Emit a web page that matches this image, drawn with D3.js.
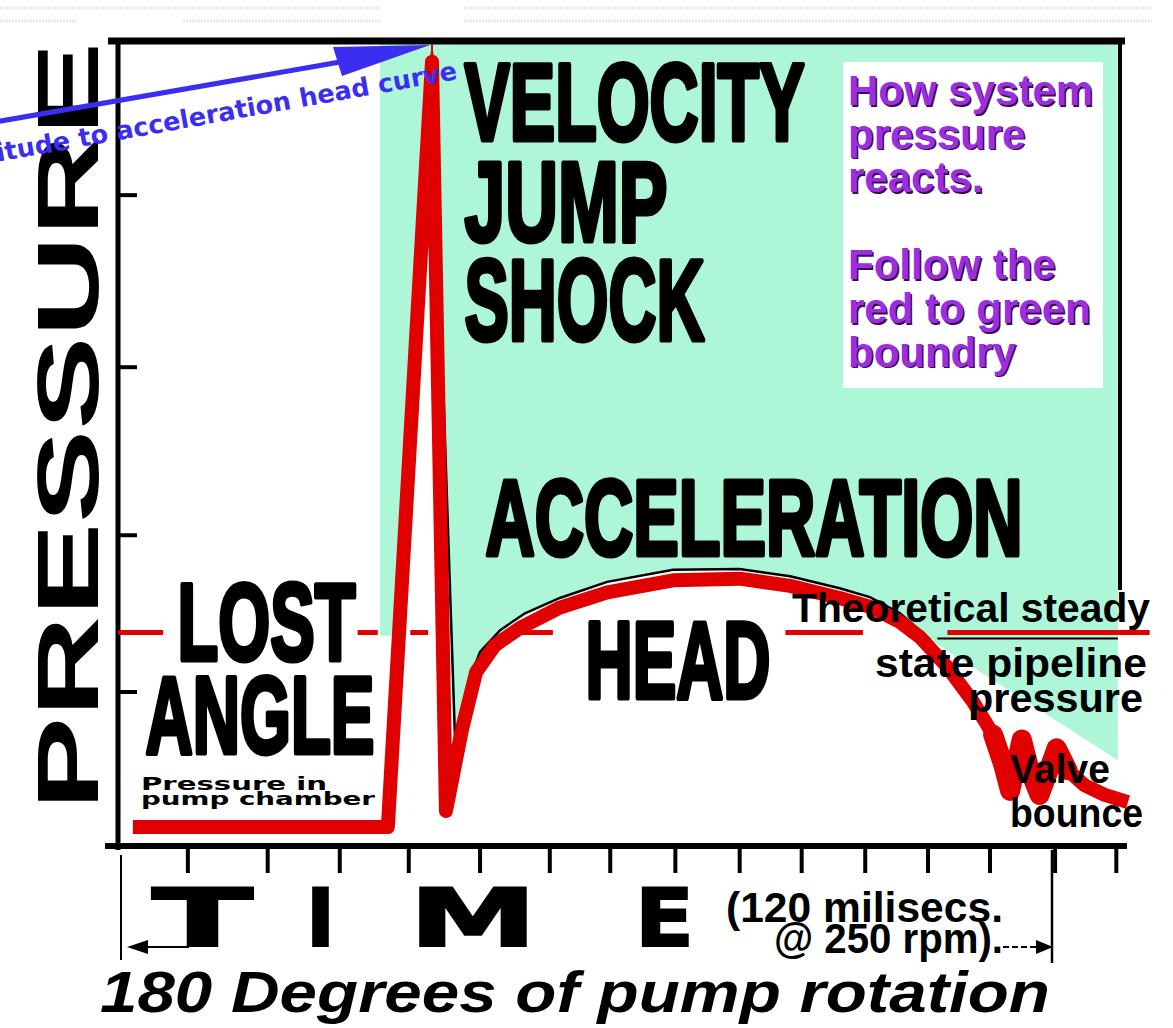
<!DOCTYPE html>
<html>
<head>
<meta charset="utf-8">
<script src="https://cdn.jsdelivr.net/npm/d3@7"></script>
<style>
body{margin:0;background:#fff;}
svg{display:block;}
</style>
</head>
<body>
<div id="chart"></div>
<script>
// time in ms (0-120 ms = 180 deg of pump rotation), pressure in arbitrary units (0-100)
var traceTime     = [1.4, 34.3, 40.0, 41.8, 43.9, 45.7, 48.1, 51.4, 56.5, 62.6, 71.1, 79.7, 86.2, 92.6, 96.5, 100.4, 103.0, 106.5, 109.8, 112.4, 113.7, 114.6, 116.1, 117.1, 118.4, 120.6, 122.0, 124.2, 126.8, 129.8];
var tracePressure = [2.6, 2.6, 97.8, 4.6, 14.9, 21.9, 25.2, 27.4, 29.9, 31.8, 33.3, 33.5, 32.6, 31.1, 30.0, 28.1, 26.2, 22.5, 18.2, 14.1, 10.4, 7.1, 13.5, 9.7, 6.6, 12.4, 9.7, 7.8, 6.6, 5.7];
var bounceStart = 20; // valve bounce part of the trace, drawn heavier

// lower edge of the green "system pressure" area
var boundaryTime     = [33.3, 35.4, 40.0, 43.0, 43.9, 44.9, 46.2, 48.8, 52.0, 56.5, 62.6, 71.1, 79.7, 86.2, 92.6, 96.5, 100.4, 104.3, 128.5];
var boundaryPressure = [26.4, 26.4, 99.0, 12.7, 16.4, 21.1, 24.4, 27.1, 29.2, 31.1, 33.1, 34.6, 34.7, 33.8, 32.3, 31.2, 29.2, 25.9, 10.9];
var boundaryEdgeEnd = 17; // last index where the black edge line is drawn

var steadyPressure = 26.8;
var steadySegments = [[-0.5, 5.3], [30.4, 33.0], [37.2, 39.5], [51.4, 55.6], [85.6, 95.6], [106.5, 132.6]];

var pressureTicks = [19.4, 38.9, 59.8, 81.2];
var timeTicks = [8.5, 18.8, 28.1, 37.0, 46.2, 55.2, 63.0, 71.4, 79.7, 87.7, 95.9, 104.0, 112.0, 120.4, 128.3];

var infoLines = ["How system", "pressure", "reacts.", "", "Follow the", "red to green", "boundry"];

var W = 1173, H = 1028;
var svg = d3.select("#chart").append("svg").attr("width", W).attr("height", H);

var x = d3.scaleLinear().domain([0, 120]).range([122, 1052]);
var y = d3.scaleLinear().domain([0, 100]).range([848, 44]);

var RED = "#e00000", GREEN = "#adf7d8", BLUE = "#3b2ef0", PURPLE = "#9a2ee0";

// faint scan lines at the very top
var scan = [[0, 381, 8], [464, 1152, 8], [0, 78, 21], [183, 381, 21], [464, 1152, 21]];
svg.selectAll(".scan").data(scan).enter().append("line")
	.attr("x1", d => d[0]).attr("x2", d => d[1]).attr("y1", d => d[2]).attr("y2", d => d[2])
	.attr("stroke", "#e8e8e8").attr("stroke-width", 3).attr("stroke-dasharray", "2,1");

// green area
var bpts = boundaryTime.map((t, i) => [t, boundaryPressure[i]]);
var poly = [[boundaryTime[0], 100]].concat(bpts).concat([[boundaryTime[boundaryTime.length - 1], 100]]);
var line = d3.line().x(d => x(d[0])).y(d => y(d[1]));
svg.append("path").attr("d", line(poly) + "Z").attr("fill", GREEN);

// black edge on the boundary
svg.append("path").attr("d", line(bpts.slice(1, boundaryEdgeEnd + 1)))
	.attr("fill", "none").attr("stroke", "#000").attr("stroke-width", 2.5);
svg.append("line")
	.attr("x1", x(105.2)).attr("x2", x(128.5)).attr("y1", y(steadyPressure) + 6).attr("y2", y(steadyPressure) + 6)
	.attr("stroke", "#000").attr("stroke-width", 2);

// info box
svg.append("rect").attr("x", 843).attr("y", 62).attr("width", 260).attr("height", 326).attr("fill", "#fff");

// frame
var frame = svg.append("g").attr("stroke", "#000").attr("stroke-linecap", "butt");
frame.append("line").attr("x1", 108).attr("x2", 1125).attr("y1", 41).attr("y2", 41).attr("stroke-width", 7);
frame.append("line").attr("x1", 1120).attr("x2", 1120).attr("y1", 41).attr("y2", 590).attr("stroke-width", 4);
frame.append("line").attr("x1", 118).attr("x2", 118).attr("y1", 38).attr("y2", 850).attr("stroke-width", 5);
frame.append("line").attr("x1", 105).attr("x2", 1127).attr("y1", 846).attr("y2", 846).attr("stroke-width", 6);

frame.selectAll(".yt").data(pressureTicks).enter().append("line")
	.attr("x1", 118).attr("x2", 137).attr("y1", d => y(d)).attr("y2", d => y(d)).attr("stroke-width", 4);
frame.selectAll(".xt").data(timeTicks).enter().append("line")
	.attr("x1", d => x(d)).attr("x2", d => x(d)).attr("y1", 846).attr("y2", 873).attr("stroke-width", 4);

// 180 degree range marker
frame.append("line").attr("x1", 121).attr("x2", 121).attr("y1", 855).attr("y2", 960).attr("stroke-width", 2);
frame.append("line").attr("x1", x(120)).attr("x2", x(120)).attr("y1", 850).attr("y2", 963).attr("stroke-width", 2.5);
frame.append("line").attr("x1", 140).attr("x2", 189).attr("y1", 947).attr("y2", 947).attr("stroke-width", 2);
frame.append("line").attr("x1", 1003).attr("x2", 1040).attr("y1", 947).attr("y2", 947).attr("stroke-width", 2).attr("stroke-dasharray", "6,3");
svg.append("path").attr("d", "M127,947L148,940L148,954Z").attr("fill", "#000");
svg.append("path").attr("d", "M1053,947L1036,940L1036,954Z").attr("fill", "#000");

// steady state pipeline pressure (dashed)
svg.selectAll(".steady").data(steadySegments).enter().append("line")
	.attr("x1", d => x(d[0])).attr("x2", d => x(d[1]))
	.attr("y1", y(steadyPressure)).attr("y2", y(steadyPressure))
	.attr("stroke", RED).attr("stroke-width", 5);

// pressure trace
var tpts = traceTime.map((t, i) => [t, tracePressure[i]]);
svg.append("line").attr("x1", x(40)).attr("x2", x(40)).attr("y1", 44).attr("y2", y(95))
	.attr("stroke", RED).attr("stroke-width", 2);
svg.append("path").attr("d", line(tpts))
	.attr("fill", "none").attr("stroke", RED).attr("stroke-width", 14)
	.attr("stroke-linejoin", "round").attr("stroke-linecap", "butt");
svg.append("path").attr("d", line(tpts.slice(bounceStart - 1, tpts.length - 3)))
	.attr("fill", "none").attr("stroke", RED).attr("stroke-width", 20)
	.attr("stroke-linejoin", "round").attr("stroke-linecap", "round");

// condensed block labels
function bigLabel(t, left, bottom, cap, width) {
	var s = 5;
	svg.append("text").text(t)
		.attr("x", left + s / 2).attr("y", bottom - s / 2)
		.attr("font-family", "'Liberation Sans', Arial, sans-serif")
		.attr("font-weight", "bold")
		.attr("font-size", (cap - s) / 0.688)
		.attr("textLength", width - s).attr("lengthAdjust", "spacingAndGlyphs")
		.attr("fill", "#000").attr("stroke", "#000").attr("stroke-width", s)
		.attr("stroke-linejoin", "round");
}
bigLabel("VELOCITY", 462, 142, 80, 345);
bigLabel("JUMP", 462, 243, 83, 208);
bigLabel("SHOCK", 462, 342, 84, 245);
bigLabel("ACCELERATION", 483, 557, 79, 542);
bigLabel("LOST", 175, 662, 80, 183);
bigLabel("ANGLE", 143, 755, 80, 234);
bigLabel("HEAD", 583, 700, 80, 190);

function plain(t, left, base, size, width, opts) {
	opts = opts || {};
	return svg.append("text").text(t)
		.attr("x", left).attr("y", base)
		.attr("font-family", opts.family || "'Liberation Sans', Arial, sans-serif")
		.attr("font-weight", opts.weight || "bold")
		.attr("font-style", opts.style || "normal")
		.attr("font-size", size)
		.attr("textLength", width).attr("lengthAdjust", "spacingAndGlyphs")
		.attr("fill", opts.fill || "#000");
}

plain("Pressure in", 141, 790, 17, 186, {family: "'DejaVu Sans', sans-serif"});
plain("pump chamber", 141, 805, 17, 234, {family: "'DejaVu Sans', sans-serif"});

plain("Theoretical steady", 792, 622, 40, 358);
plain("state pipeline", 875, 677, 40, 272);
plain("pressure", 968, 712, 40, 175);
plain("Valve", 1010, 783, 40, 100);
plain("bounce", 1010, 827, 40, 133);

// info text, purple with a dark shadow
infoLines.forEach(function(t, i) {
	if (!t) return;
	var base = 105 + i * 43.6;
	svg.append("text").text(t).attr("x", 849.5).attr("y", base + 1.5)
		.attr("font-family", "'Liberation Sans', Arial, sans-serif").attr("font-weight", "bold")
		.attr("font-size", 42).attr("fill", "#3d0b4f");
	svg.append("text").text(t).attr("x", 848).attr("y", base)
		.attr("font-family", "'Liberation Sans', Arial, sans-serif").attr("font-weight", "bold")
		.attr("font-size", 42).attr("fill", PURPLE);
});

// axis titles
svg.append("text").text("PRESSURE")
	.attr("transform", "translate(98,810) rotate(-90)")
	.attr("font-family", "'Liberation Sans', Arial, sans-serif").attr("font-weight", "bold")
	.attr("font-size", 87).attr("textLength", 768).attr("lengthAdjust", "spacingAndGlyphs")
	.attr("fill", "#000");

var timeLetters = [["T", 151, 103], ["I", 305, 31], ["M", 408, 130], ["E", 634, 61]];
timeLetters.forEach(function(d) {
	svg.append("text").text(d[0])
		.attr("x", d[1] + 1).attr("y", 946)
		.attr("font-family", "'DejaVu Sans', sans-serif").attr("font-weight", "bold")
		.attr("font-size", 80).attr("textLength", d[2] - 2).attr("lengthAdjust", "spacingAndGlyphs")
		.attr("fill", "#000").attr("stroke", "#000").attr("stroke-width", 2);
});

plain("(120 milisecs.", 726, 922, 42, 277);
plain("@ 250 rpm).", 774, 953, 42, 229);

plain("180 Degrees of pump rotation", 100, 1012, 57, 950, {style: "italic"});

// blue arrow to the peak
svg.append("line").attr("x1", -5).attr("y1", 122).attr("x2", 340).attr("y2", 62)
	.attr("stroke", BLUE).attr("stroke-width", 5);
svg.append("path").attr("d", "M333,47L430,45L342,76Z").attr("fill", BLUE);
svg.append("text").text("Amplitude to acceleration head curve")
	.attr("transform", "translate(458,79) rotate(-10.2)")
	.attr("text-anchor", "end")
	.attr("font-family", "'DejaVu Sans', sans-serif").attr("font-weight", "bold")
	.attr("font-size", 25.5).attr("fill", BLUE);
</script>
</body>
</html>
